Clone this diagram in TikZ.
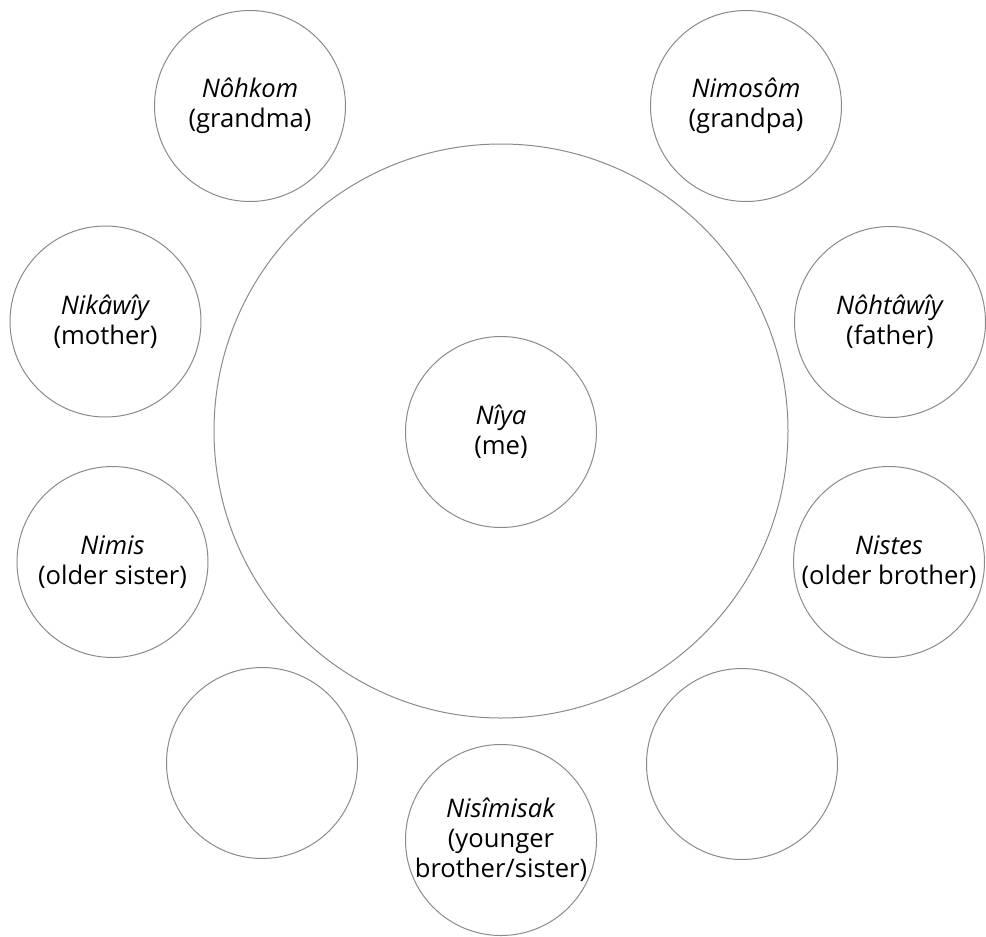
\documentclass[tikz,border=0pt]{standalone}
\usepackage{fontspec}
\setmainfont{Open Sans}
\definecolor{kinline}{HTML}{8A8A8A}

\begin{document}
\begin{tikzpicture}[
  x=0.75pt,
  y=-0.75pt,
  kincircle/.style={circle,draw=kinline,line width=0.75pt,inner sep=0pt,
    minimum size=143.25pt,align=center,font=\fontsize{19.2}{22.5}\selectfont},
  ringcircle/.style={circle,draw=kinline,line width=0.75pt,inner sep=0pt,
    minimum size=430.5pt}
]
  % Match the artwork frame.
  \useasboundingbox (0,0) rectangle (986,936);

  % Large ring round the centre.
  \node[ringcircle] (ring) at (501,431) {};
  \node[kincircle] (niya) at (501,432) {\textit{Nîya}\\(me)};

  % Relatives placed around the ring.
  \node[kincircle] (nohkom) at (250,106) {\textit{Nôhkom}\\(grandma)};
  \node[kincircle] (nimosom) at (746,106) {\textit{Nimosôm}\\(grandpa)};
  \node[kincircle] (nikawiy) at (105.5,321.5) {\textit{Nikâwîy}\\(mother)};
  \node[kincircle] (nohtawiy) at (890,322) {\textit{Nôhtâwîy}\\(father)};
  \node[kincircle] (nimis) at (112.5,562) {\textit{Nimis}\\(older sister)};
  \node[kincircle] (nistes) at (889,562) {\textit{Nistes}\\(older brother)};
  \node[kincircle] (nisimisak) at (501,840) {\textit{Nisîmisak}\\(younger\\brother/sister)};

  % Blank circles left open.
  \node[kincircle] (blankleft) at (262,763) {};
  \node[kincircle] (blankright) at (742,764) {};
\end{tikzpicture}
\end{document}
